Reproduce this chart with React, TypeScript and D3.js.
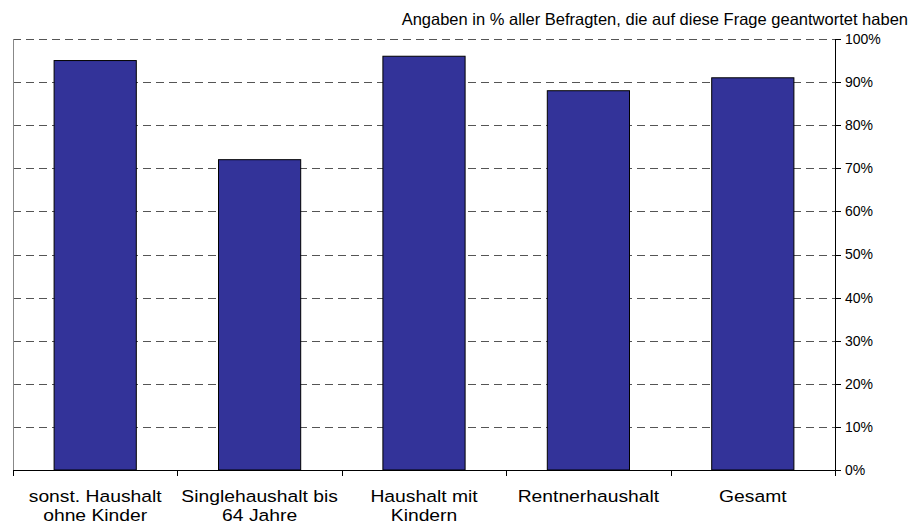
import React from "react";
import * as d3 from "d3";

const categories: string[][] = [
  ["sonst. Haushalt", "ohne Kinder"],
  ["Singlehaushalt bis", "64 Jahre"],
  ["Haushalt mit", "Kindern"],
  ["Rentnerhaushalt"],
  ["Gesamt"],
];
const values: number[] = [95, 72, 96, 88, 91];
const yTicks: number[] = [0, 10, 20, 30, 40, 50, 60, 70, 80, 90, 100];
const note = "Angaben in % aller Befragten, die auf diese Frage geantwortet haben";

const W = 913;
const H = 524;
const left = 13;
const right = 835;
const top = 39;
const bottom = 470;
const font = "'Liberation Sans', Arial, sans-serif";

export default function App() {
  const x = d3
    .scaleBand<number>()
    .domain(d3.range(values.length))
    .range([left, right])
    .paddingInner(0.5)
    .paddingOuter(0.25);
  const y = d3.scaleLinear().domain([0, 100]).range([bottom, top]);
  const step = x.step();
  const boundaries = d3.range(values.length + 1).map((i) => left + i * step);

  return (
    <svg
      width={W}
      height={H}
      style={{ position: "absolute", left: 0, top: 0 }}
      fontFamily={font}
    >
      <rect width={W} height={H} fill="#fff" />
      <text x={908} y={25} fontSize={16.5} textAnchor="end" fill="#000">
        {note}
      </text>
      {/* gridlines */}
      {yTicks
        .filter((t) => t > 0)
        .map((t) => (
          <line
            key={"g" + t}
            x1={left}
            x2={right}
            y1={Math.round(y(t)) + 0.5}
            y2={Math.round(y(t)) + 0.5}
            stroke="#555"
            strokeWidth={1}
            strokeDasharray="8,5"
          />
        ))}
      {/* left border */}
      <line x1={left + 0.5} x2={left + 0.5} y1={top} y2={bottom + 6} stroke="#888" strokeWidth={1} />
      {/* bars */}
      {values.map((v, i) => (
        <rect
          key={"b" + i}
          x={x(i)!}
          y={y(v)}
          width={x.bandwidth()}
          height={y(0) - y(v)}
          fill="#333399"
          stroke="#000"
          strokeWidth={1}
        />
      ))}
      {/* x axis */}
      <line x1={left} x2={right} y1={bottom + 0.5} y2={bottom + 0.5} stroke="#000" />
      {boundaries.map((b, i) => (
        <line
          key={"xt" + i}
          x1={Math.round(b) + 0.5}
          x2={Math.round(b) + 0.5}
          y1={bottom}
          y2={bottom + 6}
          stroke="#000"
        />
      ))}
      {/* right axis */}
      <line x1={right + 0.5} x2={right + 0.5} y1={top} y2={bottom + 1} stroke="#000" />
      {yTicks.map((t) => (
        <g key={"yt" + t}>
          <line
            x1={right}
            x2={right + 6}
            y1={Math.round(y(t)) + 0.5}
            y2={Math.round(y(t)) + 0.5}
            stroke="#000"
          />
          <text x={845} y={y(t)} dy="0.35em" fontSize={14} fill="#000">
            {t + "%"}
          </text>
        </g>
      ))}
      {/* category labels */}
      {categories.map((lines, i) => (
        <g key={"c" + i} transform={`translate(${x(i)! + x.bandwidth() / 2},0) scale(1.17,1)`}>
          {lines.map((ln, j) => (
            <text key={j} x={0} y={502 + j * 19.5} fontSize={16.5} textAnchor="middle" fill="#000">
              {ln}
            </text>
          ))}
        </g>
      ))}
    </svg>
  );
}
